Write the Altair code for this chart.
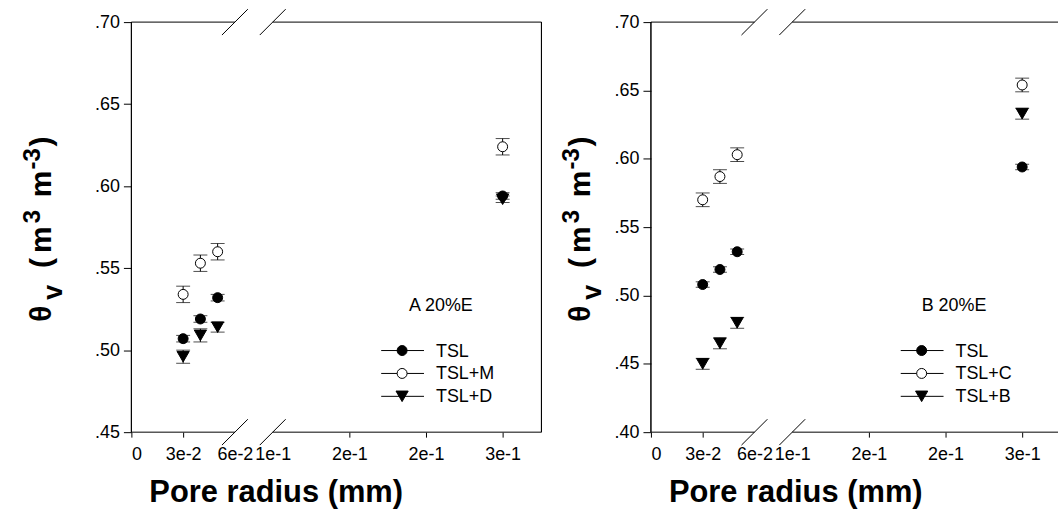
import altair as alt
import pandas as pd

# Pore radius (mm) of the four measured classes
radius = [0.03, 0.04, 0.05, 0.25]

# Panel A (20 %E): volumetric water content, mean and standard error
a_names = ["TSL", "TSL+M", "TSL+D"]
a_tsl = [0.507, 0.519, 0.532, 0.594]
a_tsl_err = [0.002, 0.002, 0.002, 0.002]
a_tslm = [0.534, 0.553, 0.560, 0.624]
a_tslm_err = [0.005, 0.005, 0.005, 0.005]
a_tsld = [0.496, 0.509, 0.514, 0.592]
a_tsld_err = [0.004, 0.004, 0.003, 0.002]

# Panel B (20 %E)
b_names = ["TSL", "TSL+C", "TSL+B"]
b_tsl = [0.508, 0.519, 0.532, 0.594]
b_tsl_err = [0.002, 0.002, 0.002, 0.002]
b_tslc = [0.570, 0.587, 0.603, 0.654]
b_tslc_err = [0.005, 0.005, 0.005, 0.005]
b_tslb = [0.450, 0.465, 0.480, 0.633]
b_tslb_err = [0.004, 0.004, 0.004, 0.004]

# x axis ticks and their printed labels
x_ticks = [0, 0.03, 0.06, 0.1, 0.15, 0.2, 0.25]
x_tick_labels = ["0", "3e-2", "6e-2", "1e-1", "2e-1", "2e-1", "3e-1"]
# the axis is broken between these two radii
break_lo, break_hi = 0.06, 0.1

a_y_ticks = [0.45, 0.50, 0.55, 0.60, 0.65, 0.70]
b_y_ticks = [0.40, 0.45, 0.50, 0.55, 0.60, 0.65, 0.70]

FONT = "Liberation Sans"
H = 412
PX_LO, PX_HI = 104, 142          # pixel positions of the two break points
PX_PER_UNIT = 77 / 0.05          # scale of the right-hand segment

STYLES = {
    "filled": dict(shape="circle", filled=True, fill="black", stroke="black", size=100),
    "open": dict(shape="circle", filled=True, fill="white", stroke="black", size=100),
    "tri": dict(shape="triangle-down", filled=True, fill="black", stroke="black", size=150),
}

label_expr = "[{}][indexof([{}], datum.value)]".format(
    ",".join("'%s'" % s for s in x_tick_labels), ",".join(str(v) for v in x_ticks)
)
hidden_ticks = " || ".join("datum.value == %s" % v for v in (break_lo, break_hi))


def panel(series, y_ticks, caption, width, right_frame, title_dx, caption_x):
    x_end = break_hi + (width - PX_HI) / PX_PER_UNIT
    xs = alt.Scale(domain=[0, break_lo, break_hi, x_end], range=[0, PX_LO, PX_HI, width],
                   zero=False, nice=False)
    ys = alt.Scale(domain=[y_ticks[0], y_ticks[-1]], zero=False, nice=False)

    x_axis = alt.Axis(
        values=x_ticks, labelExpr=label_expr, domain=False, grid=False,
        tickSize=5, tickColor="black", tickOpacity={"condition": {"test": hidden_ticks, "value": 0}, "value": 1},
        labelFont=FONT, labelFontSize=18, labelColor="black", labelPadding=8,
        title="Pore radius (mm)", titleFont=FONT, titleFontSize=31, titleFontWeight="bold",
        titleColor="black", titleX=145, titleY=70, titleAlign="center", titleBaseline="alphabetic",
    )
    y_axis = alt.Axis(
        values=y_ticks, labelExpr="substring(format(datum.value, '.2f'), 1)", domain=False,
        grid=False, tickSize=8, tickColor="black", labelFont=FONT, labelFontSize=18,
        labelColor="black", labelPadding=4, title=None,
    )
    X = alt.X("r:Q", scale=xs, axis=x_axis)
    Y = alt.Y("v:Q", scale=ys, axis=y_axis)

    rows = []
    for name, vals, errs, style in series:
        for r, v, e in zip(radius, vals, errs):
            rows.append(dict(series=name, style=style, r=r, v=v, lo=v - e, hi=v + e))
    df = pd.DataFrame(rows)
    base = alt.Chart(df)

    layers = []
    # frame with the break gap on the top and bottom edges
    segs = pd.DataFrame({"r": [0, break_hi], "r2": [break_lo, x_end]})
    for yy in (0, H):
        layers.append(alt.Chart(segs).mark_rule(color="black", strokeWidth=1)
                      .encode(x=X, x2="r2:Q", y=alt.value(yy)))
    layers.append(alt.Chart(segs).mark_rule(color="black", strokeWidth=1)
                  .encode(x=alt.value(0), y=alt.value(0), y2=alt.value(H)))
    if right_frame:
        layers.append(alt.Chart(segs).mark_rule(color="black", strokeWidth=1)
                      .encode(x=alt.value(width), y=alt.value(0), y2=alt.value(H)))
    # slashes marking the break
    brk = pd.DataFrame({"r": [break_lo, break_hi]})
    for yy in (0, H):
        layers.append(alt.Chart(brk).mark_rule(color="black", strokeWidth=1, xOffset=-13,
                                               x2Offset=13, yOffset=13, y2Offset=-13)
                      .encode(x=X, x2="r:Q", y=alt.value(yy), y2=alt.value(yy)))

    # error bars with caps
    layers.append(base.mark_rule(color="black", strokeWidth=1).encode(x=X, y=Y, y2="hi:Q")
                  .transform_calculate(v="datum.lo"))
    for col in ("lo", "hi"):
        layers.append(base.mark_tick(orient="horizontal", size=14, thickness=1, color="black")
                      .transform_calculate(v="datum." + col).encode(x=X, y=Y))
    # markers
    for style in ("tri", "open", "filled"):
        st = STYLES[style]
        layers.append(base.transform_filter(alt.datum.style == style)
                      .mark_point(opacity=1, strokeWidth=1, **st).encode(x=X, y=Y))

    # legend
    for i, (name, _, _, style) in enumerate(series):
        ly = 330 + i * 23
        st = STYLES[style]
        one = pd.DataFrame({"k": [0]})
        layers.append(alt.Chart(one).mark_rule(color="black", strokeWidth=1)
                      .encode(x=alt.value(251), x2=alt.value(294), y=alt.value(ly)))
        layers.append(alt.Chart(one).mark_point(opacity=1, strokeWidth=1, **st)
                      .encode(x=alt.value(272), y=alt.value(ly)))
        layers.append(alt.Chart(one).mark_text(text=name, font=FONT, fontSize=18, align="left",
                                               baseline="middle", color="black")
                      .encode(x=alt.value(306), y=alt.value(ly + 1)))
    layers.append(alt.Chart(pd.DataFrame({"k": [0]}))
                  .mark_text(text=caption, font=FONT, fontSize=18, align="left",
                             baseline="middle", color="black")
                  .encode(x=alt.value(caption_x), y=alt.value(285)))

    # y title: theta_v (m^3 m^-3), written piecewise for the sub- and superscripts
    pieces = [("θ", 0, 301, 30), ("v", 11, 279, 27), ("(", 0, 247, 30), ("m", 0, 232, 30),
              ("3", -11, 202, 24), ("m", 0, 176, 30), ("-3", -11, 148, 24), (")", 0, 125, 30)]
    for txt, dx, yy, fs in pieces:
        layers.append(alt.Chart(pd.DataFrame({"k": [0]}))
                      .mark_text(text=txt, font=FONT, fontSize=fs, fontWeight="bold", angle=270,
                                 align="left", baseline="alphabetic", color="black")
                      .encode(x=alt.value(title_dx + dx), y=alt.value(yy)))

    return alt.layer(*layers).properties(width=width, height=H)


left = panel(
    [(a_names[0], a_tsl, a_tsl_err, "filled"), (a_names[1], a_tslm, a_tslm_err, "open"),
     (a_names[2], a_tsld, a_tsld_err, "tri")],
    a_y_ticks, "A 20%E", 412, True, -81, 279,
)
right = panel(
    [(b_names[0], b_tsl, b_tsl_err, "filled"), (b_names[1], b_tslc, b_tslc_err, "open"),
     (b_names[2], b_tslb, b_tslb_err, "tri")],
    b_y_ticks, "B 20%E", 409, False, -61, 272,
)

chart = (
    alt.hconcat(left, right, spacing=18)
    .properties(padding={"left": 21, "top": 7, "right": 0, "bottom": 0}, background="white")
    .configure_view(stroke=None)
)
chart.save("out.html", embed_options={"renderer": "svg", "actions": False})
